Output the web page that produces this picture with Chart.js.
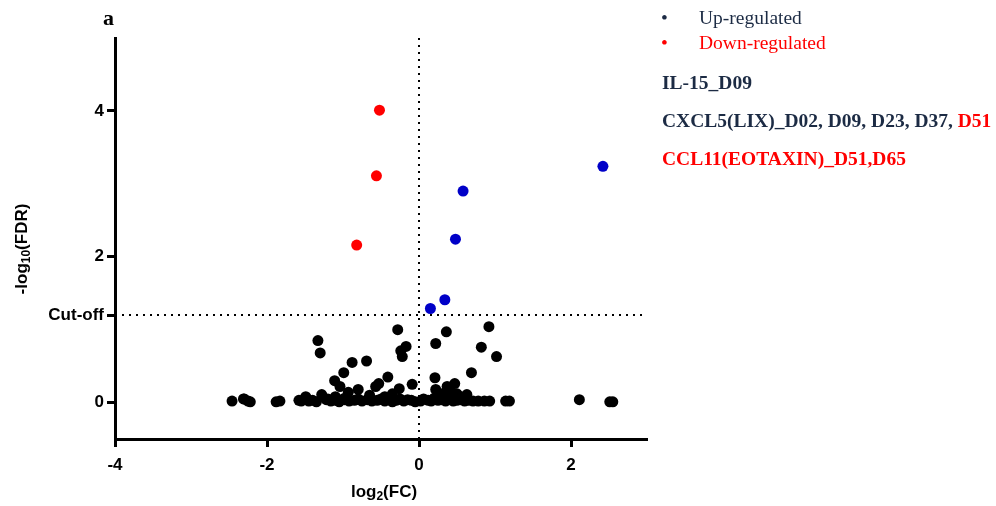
<!DOCTYPE html>
<html>
<head>
<meta charset="utf-8">
<script src="https://cdn.jsdelivr.net/npm/chart.js@4.4.1/dist/chart.umd.min.js"></script>
<style>
    body { margin: 0; background: #fff; }
    #wrap { position: relative; width: 996px; height: 506px; }
    .txt { position: absolute; font-family: "Liberation Serif", "Times New Roman", serif; white-space: nowrap; line-height: 1; }
    .navy { color: #1c2b44; }
    .red { color: #ff0000; }
    .b { font-weight: bold; font-size: 19.5px; }
</style>
</head>
<body>
<div id="wrap">
    <canvas id="volcano" width="996" height="506"></canvas>
    <div class="txt b" style="left:103px;top:7px;font-size:22px;color:#000;">a</div>
    <div class="txt navy" style="left:661px;top:8px;font-size:19.5px;">•</div>
    <div class="txt navy" style="left:699px;top:8px;font-size:19.5px;">Up-regulated</div>
    <div class="txt red" style="left:661px;top:33px;font-size:19.5px;">•</div>
    <div class="txt red" style="left:699px;top:33px;font-size:19.5px;">Down-regulated</div>
    <div class="txt b navy" style="left:662px;top:73px;">IL-15_D09</div>
    <div class="txt b navy" style="left:662px;top:111px;">CXCL5(LIX)_D02, D09, D23, D37, <span class="red">D51</span></div>
    <div class="txt b red" style="left:662px;top:149px;">CCL11(EOTAXIN)_D51,D65</div>
</div>
<script>
// axis ranges and ticks
const X_MIN = -4, X_MAX = 3;
const Y_MIN = -0.5, Y_MAX = 5;
const CUTOFF = 1.2;
const xTicks = [-4, -2, 0, 2];
const yTicks = [0, CUTOFF, 2, 4];
const yTickLabels = ['0', 'Cut-off', '2', '4'];

// up-regulated (blue)
const upX = [2.42, 0.58, 0.48, 0.34, 0.15];
const upY = [3.24, 2.90, 2.24, 1.41, 1.29];

// down-regulated (red)
const downX = [-0.52, -0.56, -0.82];
const downY = [4.01, 3.11, 2.16];

// not significant (black)
const nsX = [
    -2.46, -2.31, -2.25, -2.22, -1.88, -1.83, -1.58, -1.55, -1.50, -1.45,
    -1.40, -1.35, -1.22, -1.16, -1.10, -1.05, -0.98, -0.92, -0.85, -0.80,
    -0.75, -0.68, -0.62, -0.55, -0.50, -0.45, -0.40, -0.35, -0.30, -0.25,
    -0.20, -0.15, -0.10, -0.05, 0.02, 0.06, 0.12, 0.16, 0.20, 0.25,
    0.30, 0.35, 0.40, 0.45, 0.50, 0.55, 0.60, 0.65, 0.71, 0.78,
    0.86, 0.93, 1.14, 1.19, 2.11, 2.51, 2.55,
    -1.33, -1.30, -1.28, -1.49, -2.30, -1.11, -1.04, -0.99, -0.93, -0.88,
    -0.80, -0.69, -0.57, -0.53, -0.41, -0.28, -0.26, -0.24, -0.22, -0.17,
    -0.09, 0.21, 0.22, 0.36, 0.37, 0.47, 0.63, 0.69, 0.82, 0.92,
    1.02, 0.22, 0.30, 0.42, 0.50, 0.55, -0.65, -0.45, -0.35, -1.10,
    -0.98, -1.20
];
const nsY = [
    0.02, 0.05, 0.02, 0.01, 0.01, 0.02, 0.03, 0.02, 0.05, 0.02,
    0.03, 0.01, 0.04, 0.02, 0.03, 0.01, 0.04, 0.02, 0.03, 0.05,
    0.02, 0.04, 0.02, 0.03, 0.05, 0.02, 0.04, 0.01, 0.03, 0.05,
    0.02, 0.04, 0.03, 0.01, 0.02, 0.05, 0.03, 0.02, 0.06, 0.03,
    0.04, 0.02, 0.05, 0.02, 0.03, 0.04, 0.02, 0.03, 0.02, 0.02,
    0.02, 0.02, 0.02, 0.02, 0.04, 0.01, 0.01,
    0.85, 0.68, 0.11, 0.08, 0.05, 0.30, 0.22, 0.41, 0.14, 0.55,
    0.18, 0.57, 0.22, 0.26, 0.35, 1.00, 0.19, 0.71, 0.63, 0.77,
    0.25, 0.34, 0.81, 0.97, 0.22, 0.26, 0.11, 0.41, 0.76, 1.04,
    0.63, 0.18, 0.12, 0.15, 0.12, 0.08, 0.10, 0.08, 0.12, 0.08,
    0.06, 0.05
];

function toPoints(xs, ys) {
    return xs.map((x, i) => ({ x: x, y: ys[i] }));
}

// axis titles with subscripts
const axisTitles = {
    id: 'axisTitles',
    afterDraw(chart) {
        const ctx = chart.ctx;
        const area = chart.chartArea;
        const big = 'bold 17px "Liberation Sans", Arial, sans-serif';
        const small = 'bold 12px "Liberation Sans", Arial, sans-serif';

        function drawParts(parts) {
            let w = 0;
            parts.forEach(p => { ctx.font = p[1] ? small : big; w += ctx.measureText(p[0]).width; });
            let x = -w / 2;
            parts.forEach(p => {
                ctx.font = p[1] ? small : big;
                ctx.fillText(p[0], x, p[1] ? 5 : 0);
                x += ctx.measureText(p[0]).width;
            });
        }

        ctx.save();
        ctx.fillStyle = '#000';
        ctx.textBaseline = 'middle';
        ctx.textAlign = 'left';

        ctx.save();
        ctx.translate((area.left + area.right) / 2 + 3, 492);
        drawParts([['log', false], ['2', true], ['(FC)', false]]);
        ctx.restore();

        ctx.save();
        ctx.translate(22, 249);
        ctx.rotate(-Math.PI / 2);
        drawParts([['-log', false], ['10', true], ['(FDR)', false]]);
        ctx.restore();

        ctx.restore();
    }
};

const ctx = document.getElementById('volcano').getContext('2d');

const chart = new Chart(ctx, {
    type: 'scatter',
    data: {
        datasets: [
            {
                type: 'line',
                label: 'zero',
                data: [{ x: 0, y: Y_MIN }, { x: 0, y: Y_MAX }],
                borderColor: '#000',
                borderWidth: 2,
                borderDash: [2, 5],
                pointRadius: 0
            },
            {
                type: 'line',
                label: 'cutoff',
                data: [{ x: X_MIN, y: CUTOFF }, { x: X_MAX, y: CUTOFF }],
                borderColor: '#000',
                borderWidth: 2,
                borderDash: [2, 5],
                pointRadius: 0
            },
            {
                label: 'NS',
                data: toPoints(nsX, nsY),
                backgroundColor: '#000',
                borderColor: '#000',
                pointRadius: 5.5,
                borderWidth: 0
            },
            {
                label: 'Down-regulated',
                data: toPoints(downX, downY),
                backgroundColor: '#ff0000',
                borderColor: '#ff0000',
                pointRadius: 5.5,
                borderWidth: 0
            },
            {
                label: 'Up-regulated',
                data: toPoints(upX, upY),
                backgroundColor: '#0000c8',
                borderColor: '#0000c8',
                pointRadius: 5.5,
                borderWidth: 0
            }
        ]
    },
    options: {
        responsive: false,
        animation: false,
        layout: {
            padding: { left: 0, top: 38, right: 349, bottom: 0 }
        },
        plugins: {
            legend: { display: false },
            tooltip: { enabled: false }
        },
        scales: {
            x: {
                type: 'linear',
                min: X_MIN,
                max: X_MAX,
                afterBuildTicks: scale => { scale.ticks = xTicks.map(v => ({ value: v })); },
                afterFit: scale => { scale.height = 67; },
                border: { display: true, color: '#000', width: 3 },
                grid: { drawOnChartArea: false, drawTicks: true, tickLength: 8, tickColor: '#000', tickWidth: 3 },
                ticks: {
                    color: '#000',
                    padding: 8,
                    font: { family: '"Liberation Sans", Arial, sans-serif', size: 17, weight: 'bold' },
                    callback: v => String(v)
                }
            },
            y: {
                type: 'linear',
                min: Y_MIN,
                max: Y_MAX,
                afterBuildTicks: scale => { scale.ticks = yTicks.map(v => ({ value: v })); },
                afterFit: scale => { scale.width = 115; },
                border: { display: true, color: '#000', width: 3 },
                grid: { drawOnChartArea: false, drawTicks: true, tickLength: 8, tickColor: '#000', tickWidth: 3 },
                ticks: {
                    color: '#000',
                    padding: 3,
                    font: { family: '"Liberation Sans", Arial, sans-serif', size: 17, weight: 'bold' },
                    callback: v => yTickLabels[yTicks.indexOf(v)]
                }
            }
        }
    },
    plugins: [axisTitles]
});
</script>
</body>
</html>
